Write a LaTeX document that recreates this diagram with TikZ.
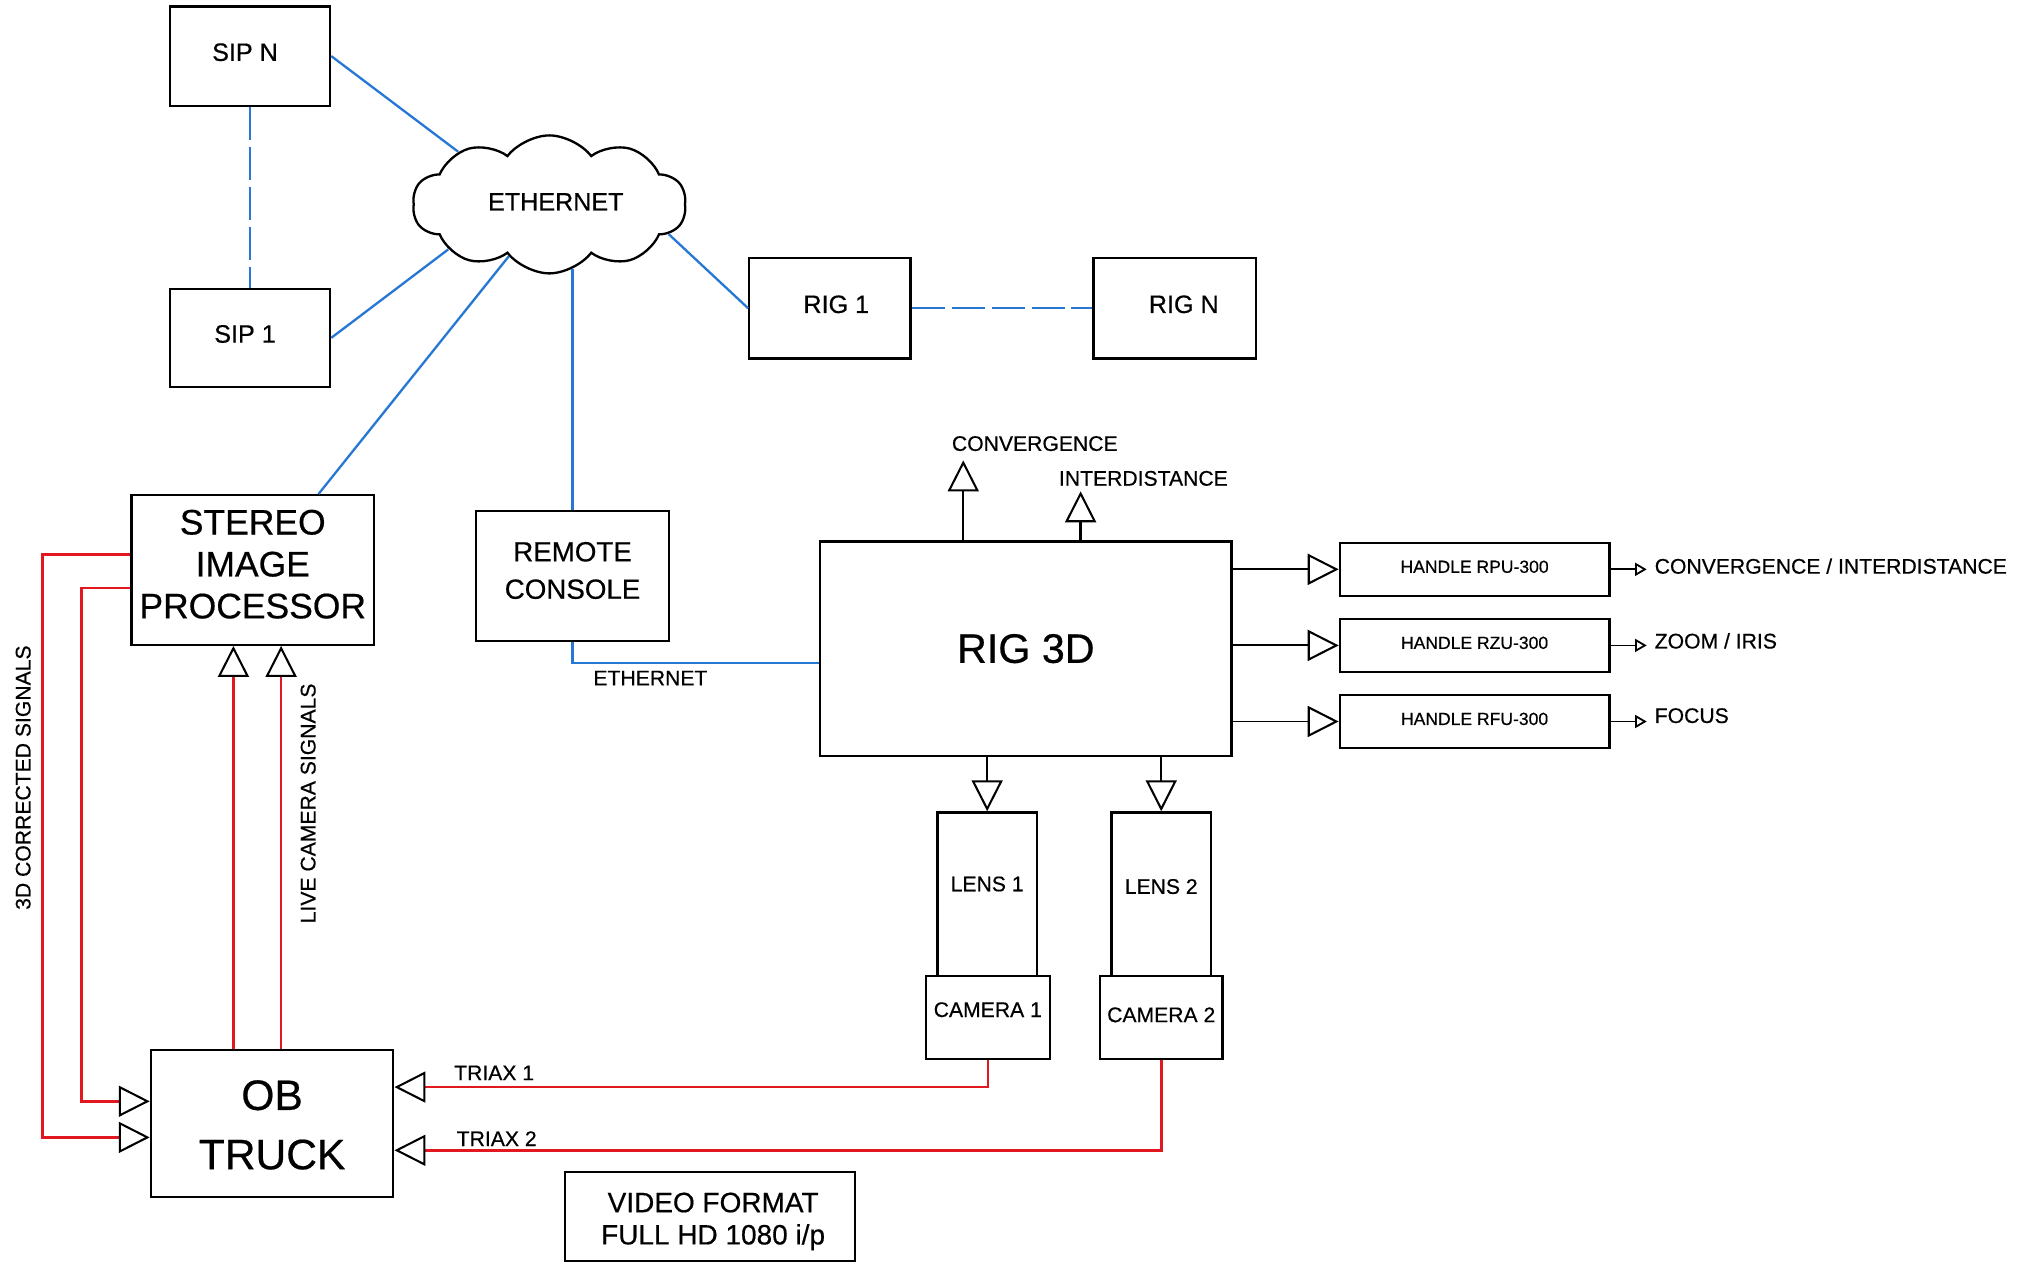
\documentclass[tikz,border=0pt]{standalone}
\usepackage{fontspec}
\setmainfont[FakeBold=0.5]{Liberation Sans}
\usetikzlibrary{arrows.meta,shapes.symbols,calc}
\definecolor{netblue}{RGB}{38,120,212}
\definecolor{sigred}{RGB}{226,24,32}
% shift glyphs vertically without changing the box used for centring
\newcommand{\txtup}[2]{\raisebox{#1}[\height][\depth]{#2}}
\begin{document}
\begin{tikzpicture}[x=1pt,y=-1pt,
  box/.style={draw, line width=1.8pt, inner sep=0pt, align=center},
  lbl/.style={font=\fontsize{16.4}{19}\selectfont, inner sep=0pt},
  fmid/.style={font=\fontsize{19.5}{23}\selectfont},
  fhandle/.style={font=\fontsize{13.6}{16}\selectfont},
  net/.style={draw=netblue, line width=1.8pt},
  netdash/.style={net, dash pattern=on 26pt off 5pt},
  sig/.style={draw=sigred, line width=2pt},
  wire/.style={draw, line width=1.8pt},
  bigtip/.style={-{Triangle[open, color=black, length=24pt, width=24pt, line width=1.6pt]}},
  smalltip/.style={-{Triangle[open, length=9pt, width=10pt, line width=1.4pt]}},
]
\useasboundingbox (0,0) rectangle (1568,979);

% ---- network side -------------------------------------------------
\node[box, fmid, minimum width=124, minimum height=77] (sipn) at (194,43.5) {\hspace*{-8pt}\txtup{3pt}{SIP N}};
\node[box, fmid, minimum width=124, minimum height=76] (sip1) at (194,262) {\hspace*{-8pt}\txtup{3pt}{SIP 1}};
\node[cloud, draw, line width=1.8pt, cloud puffs=10, cloud puff arc=105,
      cloud ignores aspect, minimum width=212, minimum height=107,
      inner sep=0pt, fmid] (eth) at (426,158.5) {\hspace*{10pt}\txtup{2pt}{ETHERNET}};
\node[box, fmid, minimum width=125, minimum height=78] (rig1) at (643.5,239) {\hspace*{10pt}\txtup{3pt}{RIG 1}};
\node[box, fmid, minimum width=126, minimum height=78] (rign) at (911,239) {\hspace*{14pt}\txtup{3pt}{RIG N}};

\draw[netdash] (sipn.south) -- (sip1.north);
\draw[netdash] (rig1.east) -- (rign.west);
\draw[net] (sipn.east) -- (eth.150);
\draw[net] (sip1.east) -- (eth.204);
\draw[net] (eth.-14) -- (rig1.west);

% ---- processing ---------------------------------------------------
\node[box, minimum width=188, minimum height=116,
      font=\fontsize{27.5}{32.5}\selectfont] (sip) at (196,442)
      {\txtup{1.5pt}{\begin{tabular}{@{}c@{}}STEREO\\IMAGE\\PROCESSOR\end{tabular}}};
\node[box, minimum width=150, minimum height=101,
      font=\fontsize{21.5}{29}\selectfont] (rc) at (444,446.5)
      {\txtup{2.5pt}{\begin{tabular}{@{}c@{}}REMOTE\\CONSOLE\end{tabular}}};
\node[box, minimum width=319, minimum height=166,
      font=\fontsize{32}{36}\selectfont] (rig) at (795.5,503) {RIG 3D};

\coordinate (sipup) at (247,0);
\draw[net] (sip.north -| sipup) -- (eth.232);
\draw[net] (rc.north) -- (rc.north |- eth.291);
\draw[net] (rc.south) |- ($(rig.west)+(0,11)$);
\node[lbl, anchor=north west] (ethlbl) at (460,520) {ETHERNET};

% ---- rig outputs --------------------------------------------------
\coordinate (cvtip) at (747,357);
\coordinate (idtip) at (838,381);
\draw[wire, bigtip] (rig.north -| cvtip) -- (cvtip);
\draw[wire, bigtip] (rig.north -| idtip) -- (idtip);
\node[lbl, anchor=west] (cvlbl) at (738,344) {CONVERGENCE};
\node[lbl, anchor=west] (idlbl) at (821,371) {INTERDISTANCE};

\node[box, fhandle, minimum width=209, minimum height=41] (h1) at (1143.5,441.5) {\txtup{2pt}{HANDLE RPU-300}};
\node[box, fhandle, minimum width=209, minimum height=41] (h2) at (1143.5,500.5) {\txtup{2pt}{HANDLE RZU-300}};
\node[box, fhandle, minimum width=209, minimum height=41] (h3) at (1143.5,559.5) {\txtup{2pt}{HANDLE RFU-300}};
\foreach \h in {h1,h2,h3}
  \draw[wire, line width=1.5pt, bigtip] (rig.east |- \h.west) -- (\h.west);

\node[lbl, anchor=west, inner xsep=6pt] (o1) at (1277,439) {CONVERGENCE / INTERDISTANCE};
\node[lbl, anchor=west, inner xsep=6pt] (o2) at (1277,497) {ZOOM / IRIS};
\node[lbl, anchor=west, inner xsep=6pt] (o3) at (1277,555) {FOCUS};
\draw[wire, line width=1.4pt, smalltip] (h1.east) -- (h1.east -| o1.west);
\draw[wire, line width=1.4pt, smalltip] (h2.east) -- (h2.east -| o2.west);
\draw[wire, line width=1.4pt, smalltip] (h3.east) -- (h3.east -| o3.west);

% ---- lenses and cameras -------------------------------------------
\node[box, lbl, draw, line width=1.8pt, minimum width=77, minimum height=127] (lens1) at (765.5,693.5) {\txtup{8pt}{LENS 1}};
\node[box, lbl, draw, line width=1.8pt, minimum width=77, minimum height=127] (lens2) at (900.5,693.5) {\txtup{6pt}{LENS 2}};
\node[box, lbl, draw, line width=1.8pt, minimum width=96, minimum height=64] (cam1) at (766,789) {\txtup{6pt}{CAMERA 1}};
\node[box, lbl, draw, line width=1.8pt, minimum width=95, minimum height=64] (cam2) at (900.5,789) {\txtup{2pt}{CAMERA 2}};
\draw[wire, bigtip] (rig.south -| lens1.north) -- (lens1.north);
\draw[wire, bigtip] (rig.south -| lens2.north) -- (lens2.north);

% ---- OB truck and signal paths -----------------------------------
\node[box, minimum width=188, minimum height=114,
      font=\fontsize{33}{46}\selectfont] (ob) at (211,871)
      {\txtup{-3.5pt}{\begin{tabular}{@{}c@{}}OB\\TRUCK\end{tabular}}};

\draw[sig, bigtip] (cam1.south) |- ($(ob.east)+(0,-28)$);
\draw[sig, bigtip] (cam2.south) |- ($(ob.east)+(0,21)$);
\node[lbl, anchor=west] (tx1) at (352,832) {TRIAX 1};
\node[lbl, anchor=west] (tx2) at (354,883) {TRIAX 2};

\coordinate (live1) at (181,0);
\coordinate (live2) at (218,0);
\draw[sig, bigtip] (ob.north -| live1) -- (sip.south -| live1);
\draw[sig, bigtip] (ob.north -| live2) -- (sip.south -| live2);
\node[lbl, rotate=90] (livelbl) at (239,623) {LIVE CAMERA SIGNALS};

\draw[sig, bigtip] ($(sip.west)+(0,-12)$) -- ++(-68,0) |- ($(ob.west)+(0,11)$);
\draw[sig, bigtip] ($(sip.west)+(0,14)$) -- ++(-38,0) |- ($(ob.west)+(0,-17)$);
\node[lbl, rotate=90] (corlbl) at (18,603) {3D CORRECTED SIGNALS};

% ---- format note --------------------------------------------------
\node[box, minimum width=225, minimum height=69,
      font=\fontsize{21.7}{25}\selectfont] (fmt) at (550.5,943.5)
      {\txtup{-4pt}{\hspace*{5pt}\begin{tabular}{@{}c@{}}VIDEO FORMAT\\FULL HD 1080 i/p\end{tabular}}};
\end{tikzpicture}
\end{document}
